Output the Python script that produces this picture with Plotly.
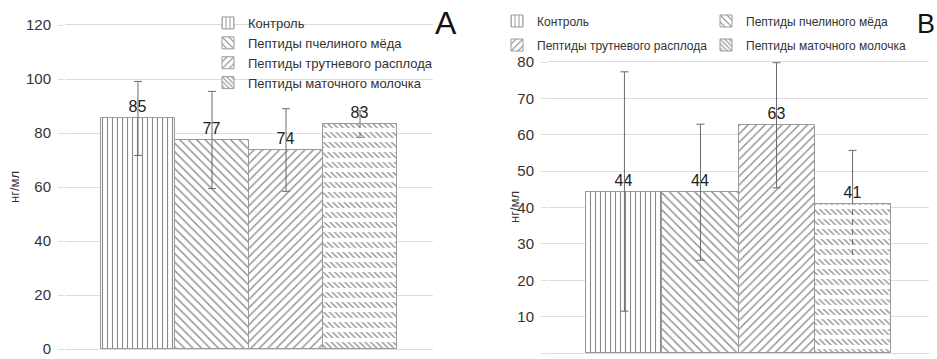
import plotly.graph_objects as go

# ---- data ----
series = ["Контроль", "Пептиды пчелиного мёда", "Пептиды трутневого расплода", "Пептиды маточного молочка"]
values_A = [85.4, 77.4, 73.7, 83.2]
errors_A = [13.7, 18.0, 15.3, 5.0]
values_B = [44.4, 44.2, 62.6, 41.0]
errors_B = [32.9, 18.7, 17.2, 14.7]
ticks_A = [0, 20, 40, 60, 80, 100, 120]
ticks_B = [0, 10, 20, 30, 40, 50, 60, 70, 80]
y_title = "нг/мл"

# ---- styles ----
W, H = 937, 359
FONT = "Liberation Sans"
patterns = ["|", "\\", "/", "\\"]
psizes = [5, 6, 6, 4]
psolid = [0.22, 0.22, 0.22, 0.32]
FG = "#888888"
EDGE = "#9a9a9a"

def px_x(p):
    return p / W

def px_y(p):
    return 1 - p / H

fig = go.Figure()

def add_panel(vals, errs, xa, ya, legends, groups):
    for i, name in enumerate(series):
        fig.add_trace(go.Bar(
            x=[name], y=[vals[i]], name=name, xaxis=xa, yaxis=ya,
            legend=legends[i], legendgroup=groups[i],
            marker=dict(color="white", line=dict(color=EDGE, width=1),
                        pattern=dict(shape=patterns[i], size=psizes[i], solidity=psolid[i],
                                     fgcolor=FG, bgcolor="white", fillmode="replace")),
            error_y=dict(type="data", array=[errs[i]], visible=True, color="#6a6a6a",
                         thickness=1, width=4),
            texttemplate="%{y:.0f}", textposition="outside",
            textfont=dict(family=FONT, size=16, color="#222"),
            cliponaxis=False, hoverinfo="skip",
        ))
        if i == 3:
            # white horizontal bands over the hatch of the last bar
            fig.add_trace(go.Bar(
                x=[name], y=[vals[i]], xaxis=xa, yaxis=ya, showlegend=False,
                legend=legends[i], legendgroup=groups[i],
                marker=dict(color="rgba(0,0,0,0)", line=dict(color=EDGE, width=1),
                            pattern=dict(shape="-", size=10, solidity=0.42,
                                         fgcolor="white", bgcolor="rgba(0,0,0,0)",
                                         fillmode="replace")),
                hoverinfo="skip",
            ))

add_panel(values_A, errors_A, "x", "y", ["legend"] * 4, ["a0", "a1", "a2", "a3"])
add_panel(values_B, errors_B, "x2", "y2", ["legend2", "legend2", "legend3", "legend3"],
          [None, None, None, None])

axis_common = dict(showticklabels=False, showgrid=False, showline=True, mirror=True,
                   linecolor="#dadada", linewidth=1, fixedrange=True, ticks="",
                   automargin=False, zeroline=False)
yaxis_common = dict(gridcolor="#dedede", gridwidth=1, zeroline=False, ticks="outside",
                    ticklen=6, tickcolor="#dedede", ticklabelstandoff=4, automargin=False,
                    showline=False,
                    tickfont=dict(family=FONT, size=15, color="#333"), fixedrange=True)

fig.update_layout(
    template="none",
    width=W, height=H, margin=dict(l=0, r=0, t=0, b=0, pad=0, autoexpand=False),
    paper_bgcolor="white", plot_bgcolor="white",
    barmode="overlay", bargap=0,
    font=dict(family=FONT, color="#333"),
    xaxis=dict(domain=[px_x(65), px_x(433)], range=[-0.986, 3.986], **axis_common),
    yaxis=dict(domain=[px_y(349), px_y(25)], range=[0, 120], tickvals=ticks_A, **yaxis_common),
    xaxis2=dict(domain=[px_x(548), px_x(929)], range=[-1.005, 4.005], anchor="y2", **axis_common),
    yaxis2=dict(domain=[px_y(353), px_y(62)], range=[0, 80], tickvals=ticks_B, anchor="x2",
                **yaxis_common),
    legend=dict(x=px_x(208), y=px_y(8), xanchor="left", yanchor="top",
                orientation="v", bgcolor="rgba(255,255,255,0)", borderwidth=0,
                font=dict(family=FONT, size=13, color="#333"), tracegroupgap=0),
    legend2=dict(x=px_x(497), y=px_y(21), xanchor="left", yanchor="middle",
                 orientation="h", entrywidth=164, entrywidthmode="pixels",
                 bgcolor="rgba(255,255,255,0)", borderwidth=0,
                 font=dict(family=FONT, size=12, color="#333")),
    legend3=dict(x=px_x(497), y=px_y(45), xanchor="left", yanchor="middle",
                 orientation="h", entrywidth=164, entrywidthmode="pixels",
                 bgcolor="rgba(255,255,255,0)", borderwidth=0,
                 font=dict(family=FONT, size=12, color="#333")),
    annotations=[
        dict(text="A", x=px_x(446), y=px_y(23), xref="paper", yref="paper",
             xanchor="center", yanchor="middle",
             showarrow=False, font=dict(family=FONT, size=32, color="#111")),
        dict(text="B", x=px_x(926), y=px_y(24), xref="paper", yref="paper",
             xanchor="center", yanchor="middle",
             showarrow=False, font=dict(family=FONT, size=27, color="#111")),
        dict(text=y_title, x=px_x(14), y=px_y(187), xref="paper", yref="paper",
             xanchor="center", yanchor="middle",
             textangle=-90, showarrow=False, font=dict(family=FONT, size=13, color="#333")),
        dict(text=y_title, x=px_x(515), y=px_y(207), xref="paper", yref="paper",
             xanchor="center", yanchor="middle",
             textangle=-90, showarrow=False, font=dict(family=FONT, size=13, color="#333")),
    ],
)

fig.write_html("out.html", config={"displayModeBar": False},
               post_script="document.body.style.margin='0';document.documentElement.style.overflow='hidden';")
